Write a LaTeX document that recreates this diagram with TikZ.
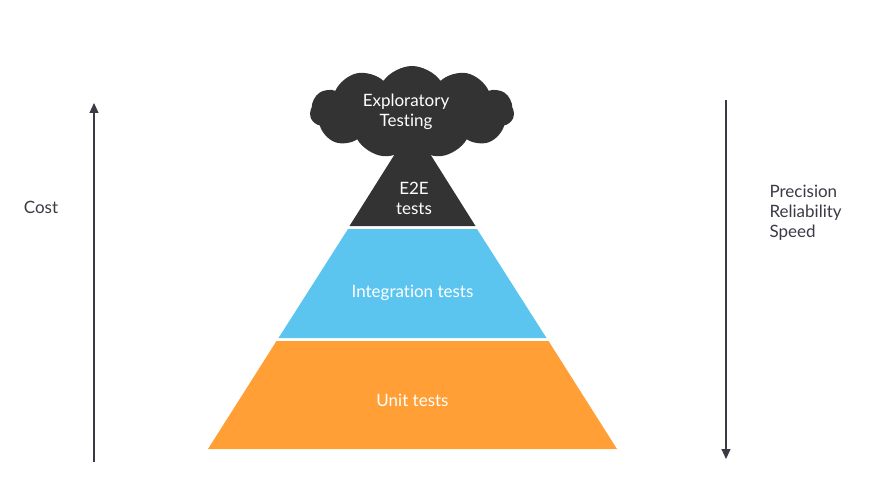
\documentclass[tikz,border=0pt]{standalone}
\usepackage{fontspec}
\setmainfont[Ligatures=NoCommon]{Lato}
\usetikzlibrary{shapes.symbols,arrows.meta}

\definecolor{unitorange}{HTML}{FF9F36}
\definecolor{intblue}{HTML}{5BC5F0}
\definecolor{etoedark}{HTML}{333333}
\definecolor{axisgray}{HTML}{3A3A45}

\tikzset{
  layerlabel/.style={text=white,font=\fontsize{17}{20}\selectfont,align=center},
  sidelabel/.style={text=axisgray,font=\fontsize{17}{20}\selectfont},
  axis/.style={axisgray,line width=1.2pt,-{Triangle[length=10pt,width=9pt]}}
}

\begin{document}
\begin{tikzpicture}[x=1pt,y=-1pt]
    \useasboundingbox (0,0) rectangle (896,489);

    % Unit tests
    \fill[unitorange] (208,449) -- (617,449) -- (548.5,341) -- (276.5,341) -- cycle;
    \node[layerlabel] (unit) at (412.5,400) {Unit tests};

    % Integration tests
    \fill[intblue] (278.5,338) -- (546.5,338) -- (477,229) -- (348,229) -- cycle;
    \node[layerlabel] (integ) at (412.5,293) {Integration tests};

    % E2E tests
    \fill[etoedark] (349.5,226) -- (475.5,226) -- (412.5,126) -- cycle;
    \node[layerlabel] (etoe) at (414,198) {E2E\\tests};

    % Exploratory testing cloud
    \node[cloud,fill=etoedark,cloud puffs=11,cloud puff arc=110,aspect=2.3,
          minimum width=204pt,minimum height=92pt,inner sep=0pt] (cloud) at (412,112) {};
    \node[layerlabel] (explo) at (406,112) {Exploratory\\Testing};

    % Cost axis
    \coordinate (costlow) at (94,462);
    \coordinate (costhigh) at (94,103);
    \draw[axis] (costlow) -- (costhigh);
    \node[sidelabel] (cost) at (41,207) {Cost};

    % Precision / reliability / speed axis
    \coordinate (prectop) at (726,100);
    \coordinate (precbot) at (726,459);
    \draw[axis] (prectop) -- (precbot);
    \node[sidelabel,align=left,anchor=west] (prec) at (766,213) {Precision\\Reliability\\Speed};
\end{tikzpicture}
\end{document}
